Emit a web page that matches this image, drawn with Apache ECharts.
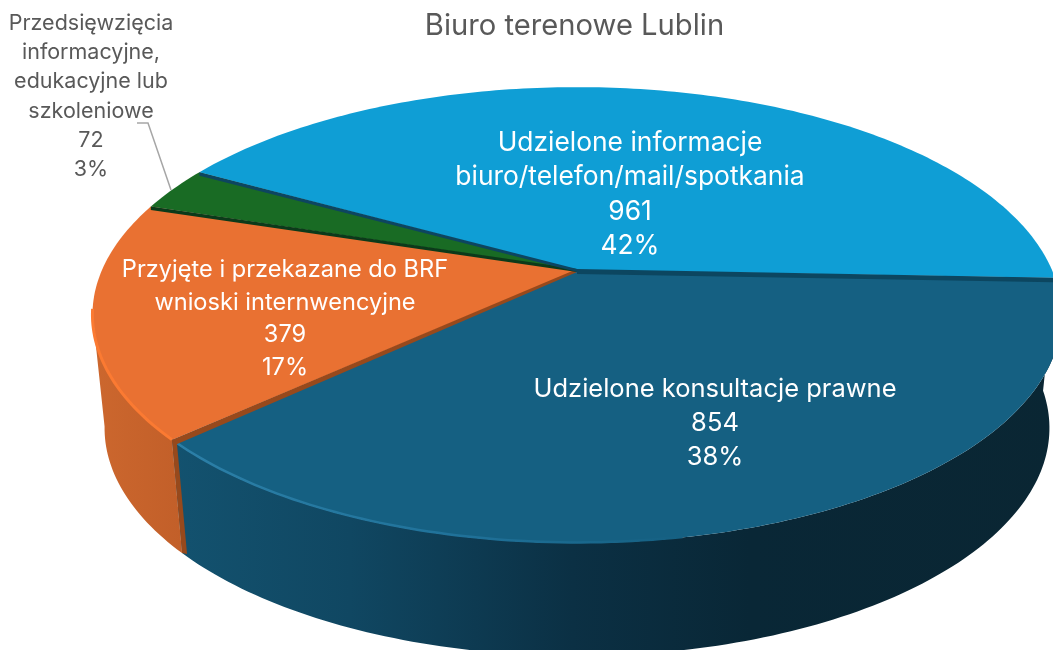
<!DOCTYPE html>
<html><head><meta charset="utf-8">
<style>html,body{margin:0;padding:0;background:#fff;overflow:hidden}#c{width:1053px;height:650px}</style>
<script src="https://cdn.jsdelivr.net/npm/echarts@6/dist/echarts.min.js"></script>
</head><body><div id="c"></div>
<script>
// data, clockwise from the right-hand boundary
const categories = [
  'Udzielone konsultacje prawne',
  'Przyjęte i przekazane do BRF\nwnioski internwencyjne',
  'Przedsięwzięcia\ninformacyjne,\nedukacyjne lub\nszkoleniowe',
  'Udzielone informacje\nbiuro/telefon/mail/spotkania'
];
const values = [854, 379, 72, 961];
const titleText = 'Biuro terenowe Lublin';

// styles and layout
const topColors = ['#156082', '#E97132', '#196B24', '#0F9ED5'];
const edgeColors = ['#97491c', '#0c3a1a', '#0d4560', '#0c4660'];
const labelColors = ['#fff', '#fff', '#595959', '#fff'];
const labelPos = [[715, 423], [285, 319], [91, 96.5], [630, 194.5]];
const labelSize = [25.5, 23.6, 21.5, 26.4];
const labelLine = [34, 32.5, 29.2, 34.5];
const FONT = 'Inter, "Open Sans", sans-serif';
const cx = 577, cy = 270, R = 475, S = 219, K = 0.1976, START = -2;
const DEPTH = 113, BOTTOM_SX = 0.975;
const total = values.reduce((a, b) => a + b, 0);

function proj(deg, bottom) {
  const t = deg * Math.PI / 180, u = Math.cos(t), v = Math.sin(t), w = 1 + K * v;
  const x = R * u / w, y = -S * v / w;
  return bottom ? [cx + x * BOTTOM_SX, cy + y + DEPTH] : [cx + x, cy + y];
}
function arc(a0, a1, bottom) {
  const n = Math.max(2, Math.ceil(Math.abs(a1 - a0))), p = [];
  for (let i = 0; i <= n; i++) p.push(proj(a0 + (a1 - a0) * i / n, bottom));
  return p;
}
// sector i spans from angles[i] clockwise (decreasing) to angles[i+1]
const angles = [START];
values.forEach((v, i) => angles.push(angles[i] - v / total * 360));
const grad = (stops) => new echarts.graphic.LinearGradient(0, 0, 1, 0,
  stops.map(s => ({ offset: s[0], color: s[1] })));

function wall(i) {
  // only the two front sectors show an outer wall
  if (i === 0) return { a: angles[1] + 360, b: 360 + START };
  if (i === 1) return { a: 191, b: angles[1] + 360 };
  return null;
}

function renderFaces(params, api) {
  const i = params.dataIndex, ch = [];
  api.value(0);
  const w = wall(i);
  if (w) {
    const pts = arc(w.a, w.b, false).concat(arc(w.b, w.a, true));
    const fill = i === 0
      ? grad([[0, '#13526f'], [0.2, '#104762'], [0.45, '#0b3044'], [0.65, '#092736'], [1, '#0a2633']])
      : grad([[0, '#cc672e'], [1, '#c25f29']]);
    ch.push({ type: 'polygon', shape: { points: pts }, style: { fill: fill } });
  }
  const face = [[cx, cy]].concat(arc(angles[i], angles[i + 1], false));
  ch.push({ type: 'polygon', shape: { points: face }, style: { fill: topColors[i] } });
  if (i === 0) {
    const rim = arc(angles[1] + 360, angles[1] + 360 + 58, false);
    ch.push({ type: 'polyline', shape: { points: rim.map(p => [p[0], p[1] - 0.5]) },
      style: { fill: null, lineWidth: 2.5, stroke: grad([[0, '#2c80a8'], [0.55, '#20729a'], [1, '#156082']]) } });
  }
  if (i === 1) {
    const rim = arc(190, angles[1] + 360, false);
    ch.push({ type: 'polyline', shape: { points: rim.map(p => [p[0], p[1] - 0.5]) },
      style: { fill: null, lineWidth: 3, stroke: '#fb7a32' } });
  }
  return { type: 'group', children: ch };
}

function renderOverlay(params, api) {
  const i = params.dataIndex, ch = [];
  const v = api.value(0);
  const rim = proj(angles[i + 1], false);
  const th = i === 0 ? 5 : i === 3 ? 4.5 : 3.5;
  ch.push({ type: 'polygon', shape: { points: [[cx, cy - 1], rim, [rim[0] + (i === 0 ? 3 : 0), rim[1] + th], [cx, cy + (i === 3 ? 4 : 2)]] },
    style: { fill: edgeColors[i] } });
  if (i === 0) {
    const b = proj(angles[1], true);
    ch.push({ type: 'polygon', shape: { points: [rim, [rim[0] + 5, rim[1] + 3], [b[0] + 5, b[1] + 1], b] },
      style: { fill: '#97491c' } });
  }
  if (i === 2) {
    ch.push({ type: 'polyline', shape: { points: [[137, 123], [148, 123], [171, 190]] },
      style: { fill: null, stroke: '#a6a6a6', lineWidth: 1.5 } });
  }
  const txt = categories[i] + '\n' + v + '\n' + Math.round(v / total * 100) + '%';
  ch.push({ type: 'text', x: labelPos[i][0], y: labelPos[i][1], style: {
    text: txt, fill: labelColors[i],
    fontSize: labelSize[i], fontFamily: FONT,
    align: 'center', verticalAlign: 'middle', lineHeight: labelLine[i] } });
  return { type: 'group', children: ch };
}

const chart = echarts.init(document.getElementById('c'), null, { renderer: 'canvas' });
chart.setOption({
  animation: false,
  backgroundColor: '#fff',
  title: { text: titleText, left: 569.5, top: 7, textAlign: 'center',
    textStyle: { color: '#595959', fontSize: 29.2, fontWeight: 'normal', fontFamily: FONT } },
  series: [
    { type: 'custom', name: 'faces', coordinateSystem: 'none', silent: true, renderItem: renderFaces, data: values },
    { type: 'custom', name: 'labels', coordinateSystem: 'none', silent: true, renderItem: renderOverlay, data: values, z: 5 }
  ]
});
</script></body></html>
